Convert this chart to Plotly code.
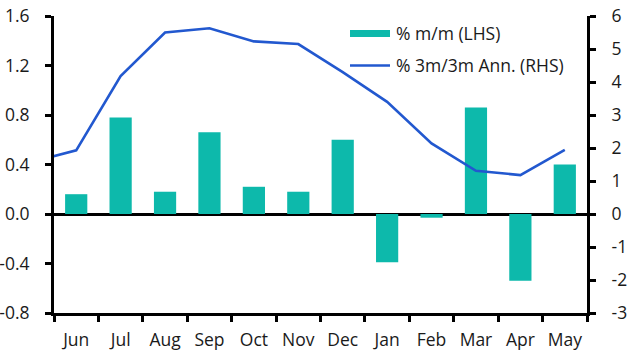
import plotly.graph_objects as go

months = ["Jun", "Jul", "Aug", "Sep", "Oct", "Nov", "Dec", "Jan", "Feb", "Mar", "Apr", "May"]
mm_values = [0.16, 0.78, 0.18, 0.66, 0.22, 0.18, 0.60, -0.39, -0.03, 0.86, -0.54, 0.40]
# 3m/3m annualised, first value is the previous May (clipped at the left edge)
ann_positions = [-1, 0, 1, 2, 3, 4, 5, 6, 7, 8, 9, 10, 11]
ann_values = [1.58, 1.93, 4.18, 5.50, 5.63, 5.23, 5.15, 4.30, 3.40, 2.14, 1.31, 1.18, 1.94]

lhs_ticks = [-0.8, -0.4, 0.0, 0.4, 0.8, 1.2, 1.6]
lhs_labels = ["-0.8", "-0.4", "0.0", "0.4", "0.8", "1.2", "1.6"]
rhs_ticks = [-3, -2, -1, 0, 1, 2, 3, 4, 5, 6]
rhs_labels = ["-3", "-2", "-1", "0", "1", "2", "3", "4", "5", "6"]

legend_bar = "% m/m (LHS)"
legend_line = "% 3m/3m Ann. (RHS)"

BAR_COLOR = "#0DB9AB"
LINE_COLOR = "#2258CF"
FONT = "Open Sans"
FS = 17.5
TXT = "#1a1a1a"

W, H = 630, 355
L, R, T, B = 54, 43, 16, 42
pw, ph = W - L - R, H - T - B


def px(x):
    return (x - L) / pw


def py(y):
    return (H - B - y) / ph


axis_common = dict(showline=True, linecolor="black", linewidth=3,
                   ticks="outside", ticklen=6, tickwidth=3, tickcolor="black",
                   showgrid=False, automargin=False,
                   tickfont=dict(family=FONT, size=FS, color=TXT))

fig = go.Figure()
fig.add_trace(go.Bar(x=months, y=mm_values, marker=dict(color=BAR_COLOR, line=dict(width=0)),
                     width=0.5, name=legend_bar, showlegend=False))
fig.add_trace(go.Scatter(x=ann_positions, y=ann_values, xaxis="x2", yaxis="y2", mode="lines",
                         line=dict(color=LINE_COLOR, width=2.6), name=legend_line, showlegend=False))

fig.update_layout(
    width=W, height=H,
    margin=dict(l=L, r=R, t=T, b=B, pad=0, autoexpand=False),
    paper_bgcolor="white", plot_bgcolor="white",
    font=dict(family=FONT, size=FS, color=TXT),
    showlegend=False,
    xaxis=dict(type="category", range=[-0.5, 11.5], tickson="boundaries", tickangle=0,
               zeroline=False, ticklabelstandoff=9, **axis_common),
    xaxis2=dict(overlaying="x", anchor="y", range=[-0.5, 11.5], visible=False),
    yaxis=dict(range=[-0.8, 1.6], tickvals=lhs_ticks, ticktext=lhs_labels,
               zeroline=True, zerolinecolor="black", zerolinewidth=3,
               ticklabelstandoff=12, **axis_common),
    yaxis2=dict(range=[-3, 6], tickvals=rhs_ticks, ticktext=rhs_labels,
                overlaying="y", side="right", anchor="x",
                zeroline=False, ticklabelstandoff=12, **axis_common),
    shapes=[
        dict(type="rect", xref="paper", yref="paper", x0=px(350), x1=px(390), y0=py(37), y1=py(30),
             fillcolor=BAR_COLOR, line=dict(width=0)),
        dict(type="line", xref="paper", yref="paper", x0=px(350), x1=px(390), y0=py(65.5), y1=py(65.5),
             line=dict(color=LINE_COLOR, width=2.6)),
    ],
    annotations=[
        dict(text=legend_bar, xref="paper", yref="paper", x=px(394), y=py(33), xanchor="left",
             yanchor="middle", showarrow=False, font=dict(family=FONT, size=FS, color=TXT)),
        dict(text=legend_line, xref="paper", yref="paper", x=px(394), y=py(65.5), xanchor="left",
             yanchor="middle", showarrow=False, font=dict(family=FONT, size=FS, color=TXT)),
    ],
)

fig.write_html("out.html", config={"displayModeBar": False, "staticPlot": True},
               post_script="document.body.style.margin='0';document.body.style.overflow='hidden';")
